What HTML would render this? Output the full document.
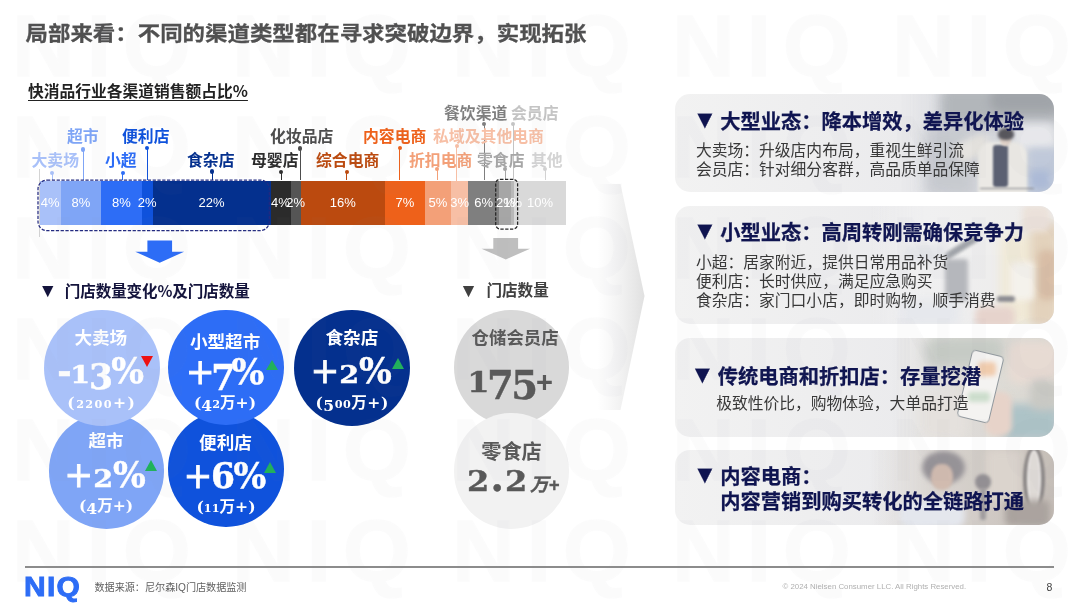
<!DOCTYPE html>
<html lang="zh-CN">
<head>
<meta charset="utf-8">
<title>局部来看：不同的渠道类型都在寻求突破边界，实现拓张</title>
<style>
html,body{margin:0;padding:0;}
body{width:1080px;height:608px;position:relative;overflow:hidden;background:#fff;
  font-family:"Liberation Sans","Noto Sans CJK SC",sans-serif;color:#333;}
.abs{position:absolute;white-space:nowrap;}
/* watermark */
.wm{position:absolute;font-weight:700;font-size:87px;line-height:87px;color:#8c8c9b;-webkit-text-stroke:1.5px #8c8c9b;letter-spacing:12px;white-space:nowrap;font-family:"Liberation Sans",sans-serif;}
#wm{position:absolute;left:0;top:0;width:1080px;height:608px;overflow:hidden;z-index:50;pointer-events:none;opacity:0.026;}
#title{left:25.5px;top:19.4px;font-size:22.45px;line-height:32px;font-weight:700;color:#505050;letter-spacing:0;transform:scaleY(0.915);transform-origin:50% 50%;-webkit-text-stroke:0.3px #505050;}
#sub{left:28px;top:80px;font-size:15.75px;line-height:22px;font-weight:700;color:#222;text-decoration:underline;text-underline-offset:2.5px;text-decoration-thickness:1.4px;font-family:"Noto Sans CJK SC",sans-serif;}
/* bar */
.seg{position:absolute;top:180.5px;height:44.5px;}
.pct{position:absolute;top:180.5px;height:44.5px;line-height:44.5px;font-size:13px;color:#fff;text-align:center;white-space:nowrap;
  font-family:"Liberation Sans",sans-serif;transform:translateX(-50%);}
.lab{position:absolute;font-size:15.85px;line-height:20px;font-weight:700;white-space:nowrap;}
.ld{position:absolute;width:1px;}
.ld:before{content:"";position:absolute;left:-1.6px;top:-2.2px;width:4.2px;height:4.2px;border-radius:50%;background:inherit;}
.hd{font-size:15.55px;line-height:22px;font-weight:700;}
/* circles */
.circ{position:absolute;border-radius:50%;color:#fff;text-align:center;}
.cn{position:absolute;transform:translateX(-50%);font-weight:700;line-height:24px;white-space:nowrap;z-index:5;}
.cv{position:absolute;transform:translateX(-50%);font-family:"DejaVu Serif","Liberation Serif",serif;font-weight:700;font-size:34.5px;line-height:48px;white-space:nowrap;z-index:5;letter-spacing:-0.5px;}
.cv.big{font-size:38.5px;}
.cv .pm{font-weight:400;-webkit-text-stroke:0.8px currentColor;}
.cv{-webkit-text-stroke:0.45px currentColor;}
.cv .x,.cs .x{font-size:72%;}
.cv .x{display:inline-block;transform:scaleX(1.15);margin:0 0.07em;}
.cv .d,.cs .d{display:inline-block;transform:translateY(0.18em);}
.cs{position:absolute;transform:translateX(-50%);font-family:"DejaVu Serif","Noto Sans CJK SC",serif;font-weight:700;font-size:15.6px;line-height:20px;white-space:nowrap;z-index:5;color:#fff;}
.tri{position:absolute;width:0;height:0;z-index:5;}
/* panels */
.panel{position:absolute;left:674.5px;width:379.5px;border-radius:15px;background:linear-gradient(90deg,#f2f2f2 0%,#eeeeef 35%,#ebebed 60%,#ebebed 100%);overflow:hidden;}
.panel h3{position:absolute;margin:0;font-size:20.25px;line-height:26px;font-weight:700;color:#0f1450;white-space:nowrap;z-index:2;-webkit-text-stroke:0.25px #0f1450;}
.panel h3 .tv{position:absolute;left:-4.5px;top:-2.8px;font-size:25px;}
.panel h3{padding-left:23.2px;}
.panel p{position:absolute;margin:0;font-size:15.78px;line-height:18.4px;color:#383838;white-space:nowrap;z-index:2;font-weight:400;}
.ph{position:absolute;left:0;right:0;top:0;bottom:0;z-index:1;opacity:0.92}
.ph i{position:absolute;display:block;}
#logo{left:24.3px;top:571.5px;font-size:27.5px;line-height:30px;font-weight:700;color:#2d6df6;font-family:"Liberation Sans",sans-serif;letter-spacing:1.2px;-webkit-text-stroke:0.9px #2d6df6;transform:scaleX(1.09);transform-origin:0 50%;}
</style>
</head>
<body>
<!-- WATERMARK -->
<div id="wm"><span class="wm" style="left:12px;top:1.5px">NIQ</span><span class="wm" style="left:232px;top:1.5px">NIQ</span><span class="wm" style="left:452px;top:1.5px">NIQ</span><span class="wm" style="left:672px;top:1.5px">NIQ</span><span class="wm" style="left:892px;top:1.5px">NIQ</span><span class="wm" style="left:12px;top:102.5px">NIQ</span><span class="wm" style="left:232px;top:102.5px">NIQ</span><span class="wm" style="left:452px;top:102.5px">NIQ</span><span class="wm" style="left:672px;top:102.5px">NIQ</span><span class="wm" style="left:892px;top:102.5px">NIQ</span><span class="wm" style="left:12px;top:203.5px">NIQ</span><span class="wm" style="left:232px;top:203.5px">NIQ</span><span class="wm" style="left:452px;top:203.5px">NIQ</span><span class="wm" style="left:672px;top:203.5px">NIQ</span><span class="wm" style="left:892px;top:203.5px">NIQ</span><span class="wm" style="left:12px;top:304.5px">NIQ</span><span class="wm" style="left:232px;top:304.5px">NIQ</span><span class="wm" style="left:452px;top:304.5px">NIQ</span><span class="wm" style="left:672px;top:304.5px">NIQ</span><span class="wm" style="left:892px;top:304.5px">NIQ</span><span class="wm" style="left:12px;top:405.5px">NIQ</span><span class="wm" style="left:232px;top:405.5px">NIQ</span><span class="wm" style="left:452px;top:405.5px">NIQ</span><span class="wm" style="left:672px;top:405.5px">NIQ</span><span class="wm" style="left:892px;top:405.5px">NIQ</span><span class="wm" style="left:12px;top:506.5px">NIQ</span><span class="wm" style="left:232px;top:506.5px">NIQ</span><span class="wm" style="left:452px;top:506.5px">NIQ</span><span class="wm" style="left:672px;top:506.5px">NIQ</span><span class="wm" style="left:892px;top:506.5px">NIQ</span></div>

<div class="abs" id="title">局部来看：不同的渠道类型都在寻求突破边界，实现拓张</div>
<div class="abs" id="sub">快消品行业各渠道销售额占比%</div>

<!-- BAR -->
<div id="bar">
<div class="abs" style="left:39px;top:169px;width:1px;height:68px;background:#d4d4d4"></div>
<div class="seg" style="left:39.5px;width:21.25px;background:#a9c1f9"></div>
<div class="seg" style="left:60.75px;width:40.25px;background:#7fa5f6"></div>
<div class="seg" style="left:101px;width:40.75px;background:#2d6df6"></div>
<div class="seg" style="left:141.75px;width:10.75px;background:#0f52dc"></div>
<div class="seg" style="left:152.5px;width:118.00px;background:#04308e"></div>
<div class="seg" style="left:270.5px;width:20.00px;background:#2b2b2b"></div>
<div class="seg" style="left:290.5px;width:10.10px;background:#555555"></div>
<div class="seg" style="left:300.6px;width:84.40px;background:#bb4a0f"></div>
<div class="seg" style="left:385px;width:39.70px;background:#ee611a"></div>
<div class="seg" style="left:424.7px;width:26.40px;background:#f3a078"></div>
<div class="seg" style="left:451.1px;width:16.90px;background:#f7bfa5"></div>
<div class="seg" style="left:468px;width:31.40px;background:#7f7f7f"></div>
<div class="seg" style="left:499.4px;width:11.90px;background:#a6a6a6"></div>
<div class="seg" style="left:511.3px;width:2.90px;background:#b8b8b8"></div>
<div class="seg" style="left:514.2px;width:51.60px;background:#d9d9d9"></div>
<div class="pct" style="left:50.12px">4%</div>
<div class="pct" style="left:80.88px">8%</div>
<div class="pct" style="left:121.38px">8%</div>
<div class="pct" style="left:147.12px">2%</div>
<div class="pct" style="left:211.50px">22%</div>
<div class="pct" style="left:280.50px">4%</div>
<div class="pct" style="left:295.55px">2%</div>
<div class="pct" style="left:342.80px">16%</div>
<div class="pct" style="left:404.85px">7%</div>
<div class="pct" style="left:437.90px">5%</div>
<div class="pct" style="left:459.55px">3%</div>
<div class="pct" style="left:483.70px">6%</div>
<div class="pct" style="left:505.35px">2%</div>
<div class="pct" style="left:512.75px">1%</div>
<div class="pct" style="left:540.00px">10%</div>
<div class="ld" style="left:51.5px;top:172.9px;height:7.6px;background:#a9c1f9"></div>
<div class="ld" style="left:82.6px;top:149.6px;height:30.9px;background:#7fa5f6"></div>
<div class="ld" style="left:122.1px;top:172.9px;height:7.6px;background:#2d6df6"></div>
<div class="ld" style="left:146.9px;top:147.8px;height:32.7px;background:#0f52dc"></div>
<div class="ld" style="left:211.8px;top:171.6px;height:8.9px;background:#04308e"></div>
<div class="ld" style="left:280.7px;top:171.9px;height:8.6px;background:#2b2b2b"></div>
<div class="ld" style="left:299.5px;top:148.6px;height:31.9px;background:#4d4d4d"></div>
<div class="ld" style="left:346.3px;top:171.9px;height:8.6px;background:#bb4a0f"></div>
<div class="ld" style="left:399.4px;top:148.3px;height:32.2px;background:#ee611a"></div>
<div class="ld" style="left:436.6px;top:169.3px;height:11.2px;background:#f3a078"></div>
<div class="ld" style="left:456.3px;top:146px;height:34.5px;background:#f7bfa5"></div>
<div class="ld" style="left:483.6px;top:123.9px;height:56.6px;background:#7f7f7f"></div>
<div class="ld" style="left:504.7px;top:168.8px;height:11.7px;background:#a6a6a6"></div>
<div class="ld" style="left:512.7px;top:123.9px;height:56.6px;background:#c4c4c4"></div>
<div class="ld" style="left:544.5px;top:169.3px;height:11.2px;background:#d4d4d4"></div>
<div class="lab" style="left:31.5px;top:150.6px;color:#a9c1f9">大卖场</div>
<div class="lab" style="left:67px;top:126.6px;color:#7fa5f6">超市</div>
<div class="lab" style="left:105px;top:150.6px;color:#2d6df6">小超</div>
<div class="lab" style="left:122px;top:126.6px;color:#0f52dc">便利店</div>
<div class="lab" style="left:187px;top:150.6px;color:#04308e">食杂店</div>
<div class="lab" style="left:251px;top:150.6px;color:#2b2b2b">母婴店</div>
<div class="lab" style="left:270px;top:126.6px;color:#4d4d4d">化妆品店</div>
<div class="lab" style="left:316px;top:150.6px;color:#bb4a0f">综合电商</div>
<div class="lab" style="left:363px;top:126.6px;color:#ee611a">内容电商</div>
<div class="lab" style="left:409px;top:150.6px;color:#f3a078">折扣电商</div>
<div class="lab" style="left:433px;top:126.6px;color:#f7bfa5">私域及其他电商</div>
<div class="lab" style="left:444px;top:104.3px;color:#7f7f7f">餐饮渠道</div>
<div class="lab" style="left:477px;top:150.6px;color:#a6a6a6">零食店</div>
<div class="lab" style="left:511px;top:104.3px;color:#c4c4c4">会员店</div>
<div class="lab" style="left:531px;top:150.6px;color:#d4d4d4">其他</div>
<svg class="abs" style="left:0;top:0;z-index:3" width="1080" height="608" viewBox="0 0 1080 608"><rect x="38" y="180" width="231.3" height="50.6" rx="9" fill="none" stroke="#232a80" stroke-width="1.25" stroke-dasharray="3.3 1.5"/><rect x="495.7" y="179.3" width="21.9" height="49.7" rx="4.5" fill="none" stroke="#262626" stroke-width="1.25" stroke-dasharray="3.3 1.5"/></svg>
</div>

<!-- ARROWS -->
<div id="arrows">
<svg class="abs" style="left:0;top:0" width="1080" height="608" viewBox="0 0 1080 608">
<defs>
<linearGradient id="cg" x1="0" x2="1" y1="0" y2="0"><stop offset="0.35" stop-color="#e8e8e8" stop-opacity="0"/><stop offset="1" stop-color="#e0e0e0" stop-opacity="1"/></linearGradient>
</defs>
<polygon points="572,184 620.5,184 644.5,296 620.5,410 572,410" fill="url(#cg)"/>
<polygon points="147.4,240.6 172.1,240.6 172.1,251.7 184.1,251.7 159.7,262.8 135.3,251.7 147.4,251.7" fill="#2d6df6"/>
<polygon points="493.3,238 518.1,238 518.1,248.7 530.1,248.7 505.8,259.4 481.5,248.7 493.3,248.7" fill="#bfbfbf"/>
</svg>
<div class="abs hd" style="left:38.3px;top:280px;color:#14143c;font-size:19.2px">▼</div>
<div class="abs hd" style="left:64.8px;top:278.9px;color:#14143c;font-family:'Noto Sans CJK SC',sans-serif;letter-spacing:-0.1px">门店数量变化%及门店数量</div>
<div class="abs hd" style="left:459px;top:280px;color:#404040;font-size:19.2px">▼</div>
<div class="abs hd" style="left:486.5px;top:279.6px;color:#404040">门店数量</div>
</div>

<!-- CIRCLES -->
<div id="circles">
<div class="circ" style="left:48.8px;top:413.1px;width:115.5px;height:115.5px;background:#7fa5f6;z-index:1"></div>
<div class="circ" style="left:168.2px;top:411.2px;width:115.5px;height:115.5px;background:#0f52dc;z-index:1"></div>
<div class="circ" style="left:43.9px;top:309.6px;width:116px;height:116px;background:#a9c1f9;z-index:2"></div>
<div class="circ" style="left:168.1px;top:309.6px;width:115.5px;height:115.5px;background:#2d6df6;z-index:2"></div>
<div class="circ" style="left:293.9px;top:310.2px;width:116px;height:116px;background:#04308e;z-index:2"></div>
<div class="circ" style="left:453.9px;top:309.6px;width:115.5px;height:115.5px;background:#d9d9d9;z-index:1"></div>
<div class="circ" style="left:453.9px;top:413.1px;width:115.5px;height:115.5px;background:#f2f2f2;z-index:2"></div>
<div class="cn" style="left:100.8px;top:326px;font-size:17.6px;color:#fff">大卖场</div>
<div class="cv" style="left:99.8px;top:347.3px;color:#fff;letter-spacing:-1.7px">-<span class="x">1</span><span class="d">3</span>%</div>
<div class="cs" style="left:101.8px;top:392.5px;letter-spacing:1.4px">(<span class="x">2</span><span class="x">2</span><span class="x">0</span><span class="x">0</span>+)</div>
<div class="tri" style="left:141px;top:355.5px;border-left:6.650000000000006px solid transparent;border-right:6.650000000000006px solid transparent;border-top:11.199999999999989px solid #ee1111"></div>
<div class="cn" style="left:225.1px;top:330px;font-size:17.6px;color:#fff">小型超市</div>
<div class="cv" style="left:223.3px;top:347.8px;color:#fff;letter-spacing:-3.6px"><span class="pm">+</span><span class="d">7</span>%</div>
<div class="cs" style="left:225px;top:393px">(<span class="d">4</span><span class="x">2</span>万+)</div>
<div class="tri" style="left:265.5px;top:359.8px;border-left:6.650000000000006px solid transparent;border-right:6.650000000000006px solid transparent;border-bottom:10.699999999999989px solid #1fb25a"></div>
<div class="cn" style="left:351.9px;top:326px;font-size:17.6px;color:#fff">食杂店</div>
<div class="cv" style="left:350.9px;top:347.3px;color:#fff"><span class="pm">+</span><span class="x">2</span>%</div>
<div class="cs" style="left:352.1px;top:392.5px;letter-spacing:0.5px">(<span class="d">5</span><span class="x">0</span><span class="x">0</span>万+)</div>
<div class="tri" style="left:392.2px;top:358.3px;border-left:6.700000000000017px solid transparent;border-right:6.700000000000017px solid transparent;border-bottom:11.099999999999966px solid #1fb25a"></div>
<div class="cn" style="left:106px;top:429px;font-size:17.6px;color:#fff">超市</div>
<div class="cv" style="left:104.8px;top:450.9px;color:#fff"><span class="pm">+</span><span class="x">2</span>%</div>
<div class="cs" style="left:106.1px;top:495.5px">(<span class="d">4</span>万+)</div>
<div class="tri" style="left:145.4px;top:460.2px;border-left:6.599999999999994px solid transparent;border-right:6.599999999999994px solid transparent;border-bottom:11.800000000000011px solid #1fb25a"></div>
<div class="cn" style="left:225.5px;top:431px;font-size:17.6px;color:#fff">便利店</div>
<div class="cv" style="left:224.2px;top:452.0px;color:#fff;letter-spacing:-1.5px"><span class="pm">+</span>6%</div>
<div class="cs" style="left:226px;top:497px">(<span class="x">1</span><span class="x">1</span>万+)</div>
<div class="tri" style="left:264.3px;top:462.4px;border-left:6.599999999999994px solid transparent;border-right:6.599999999999994px solid transparent;border-bottom:11.100000000000023px solid #1fb25a"></div>
<div class="cn" style="left:515.1px;top:326px;font-size:17.4px;color:#595959">仓储会员店</div>
<div class="cn" style="left:511.5px;top:439.5px;font-size:20.2px;color:#595959">零食店</div>
<div class="cv big" style="left:501px;top:354.9px;color:#595959;letter-spacing:-2.6px"><span class="x">1</span><span class="d">7</span><span class="d">5</span></div>
<div class="abs" style="left:536px;top:369px;font-size:29px;line-height:26px;font-weight:700;color:#595959;font-family:'Liberation Sans',sans-serif;z-index:5">+</div>
<div class="cv big" style="left:497.5px;top:454.3px;color:#595959;letter-spacing:0.5px"><span class="x">2</span>.<span class="x">2</span></div>
<div class="abs" style="left:530px;top:474px;font-size:18.5px;line-height:22px;font-weight:700;font-style:italic;color:#595959;z-index:5;-webkit-text-stroke:0.3px #595959">万+</div>
</div>

<!-- CHEVRON -->

<!-- PANELS -->
<div id="panels">
<div class="panel" style="top:93.5px;height:98.5px">
  <div class="ph" id="ph1"><i style="left:225.5px;top:0;width:154px;height:98.5px;background:linear-gradient(90deg,rgba(214,216,221,0),#d6d8dd 35%,#cfd2d7);border-radius:0"></i><i style="left:265.5px;top:-7.5px;width:122.0px;height:40.0px;background:#adb1b6;border-radius:10px;filter:blur(6px);"></i><i style="left:315.5px;top:-5.5px;width:72.0px;height:24.0px;background:#9a9ea3;border-radius:10px;filter:blur(5px);"></i><i style="left:250.5px;top:31.5px;width:50.0px;height:71.0px;background:#c4c7cd;border-radius:6px;filter:blur(6px);"></i><i style="left:337.5px;top:28.5px;width:44.0px;height:28.0px;background:#e6e7eb;border-radius:8px;filter:blur(4px);"></i><i style="left:353.5px;top:54.5px;width:30.0px;height:46.0px;background:#bcc6d8;border-radius:4px;filter:blur(3.5px);"></i><i style="left:355.5px;top:76.5px;width:20.0px;height:20.0px;background:#a9b8d6;border-radius:4px;filter:blur(3.5px);"></i><i style="left:280.5px;top:44.5px;width:35.0px;height:20.0px;background:#e4e2de;border-radius:8px;filter:blur(3px);transform:rotate(-25deg);"></i><i style="left:303.5px;top:48.5px;width:49.0px;height:54.0px;background:#ebe9e4;border-radius:14px 14px 0 0;filter:blur(1.8px);"></i><i style="left:318.0px;top:51.5px;width:15.5px;height:42.0px;background:#4f5468;border-radius:3px;filter:blur(1.2px);"></i><i style="left:325.0px;top:40.5px;width:11.5px;height:12.0px;background:#dccdc3;border-radius:50%;filter:blur(1.2px);"></i><i style="left:323.5px;top:34.5px;width:16.0px;height:12.0px;background:#4a4950;border-radius:50% 50% 40% 40%;filter:blur(1.5px);"></i><i style="left:305.5px;top:94.0px;width:54.0px;height:1.5px;background:#77777d;border-radius:1px;filter:blur(0.8px);"></i></div>
  <h3 style="left:22.5px;top:15.5px"><span class="tv">▼</span>大型业态：降本增效，差异化体验</h3>
  <p style="left:21.5px;top:48.6px">大卖场：升级店内布局，重视生鲜引流<br>会员店：针对细分客群，高品质单品保障</p>
</div>
<div class="panel" style="top:205.5px;height:118.5px">
  <div class="ph" id="ph2"><i style="left:195.5px;top:0;width:184px;height:118.5px;background:linear-gradient(90deg,rgba(240,240,241,0),#f0f0f1 30%,#eeedeb);border-radius:0"></i><i style="left:325.5px;top:29.5px;width:35.0px;height:91.0px;background:#f1ead6;border-radius:6px;filter:blur(5px);"></i><i style="left:355.5px;top:16.5px;width:28.0px;height:104.0px;background:#e2d0b8;border-radius:6px;filter:blur(4px);"></i><i style="left:363.5px;top:44.5px;width:18.0px;height:50.0px;background:#d6b9a0;border-radius:6px;filter:blur(3px);"></i><i style="left:347.5px;top:-0.5px;width:28.0px;height:27.0px;background:#ebe0d8;border-radius:6px;filter:blur(3px);"></i><i style="left:335.5px;top:56.5px;width:24.0px;height:38.0px;background:#f5f2ec;border-radius:4px;filter:blur(3px);"></i><i style="left:270.5px;top:53.5px;width:23.0px;height:42.0px;background:#b1b3b8;border-radius:3px;filter:blur(2.2px);"></i><i style="left:267.5px;top:38.5px;width:38.0px;height:7.0px;background:#9b9ea4;border-radius:3px;filter:blur(1.6px);transform:rotate(-32deg);"></i><i style="left:230.5px;top:39.5px;width:40.0px;height:17.0px;background:#e3e5e9;border-radius:6px;filter:blur(3px);"></i><i style="left:322.5px;top:90.5px;width:18.0px;height:6.0px;background:#84848a;border-radius:3px;filter:blur(1.8px);"></i><i style="left:300.5px;top:100.5px;width:40.0px;height:22.0px;background:#e6d2ca;border-radius:8px;filter:blur(3px);"></i><i style="left:225.5px;top:94.5px;width:60.0px;height:26.0px;background:#e6e8ed;border-radius:8px;filter:blur(4px);"></i></div>
  <h3 style="left:22.5px;top:14px"><span class="tv">▼</span>小型业态：高周转刚需确保竞争力</h3>
  <p style="left:21.5px;top:47.2px;line-height:19px">小超：居家附近，提供日常用品补货<br>便利店：长时供应，满足应急购买<br>食杂店：家门口小店，即时购物，顺手消费</p>
</div>
<div class="panel" style="top:337.5px;height:99px">
  <div class="ph" id="ph3"><i style="left:217.5px;top:0;width:162px;height:99px;background:linear-gradient(90deg,rgba(225,222,217,0),#e0ddd8 42%,#d8d5cf);border-radius:0"></i><i style="left:250.5px;top:-1.5px;width:80.0px;height:32.0px;background:#c3c8c2;border-radius:10px;filter:blur(6px);"></i><i style="left:333.5px;top:4.5px;width:50.0px;height:42.0px;background:#e7d9d1;border-radius:10px;filter:blur(5px);"></i><i style="left:325.5px;top:66.5px;width:58.0px;height:36.0px;background:#a8bfc4;border-radius:8px;filter:blur(4px);"></i><i style="left:355.5px;top:42.5px;width:28.0px;height:30.0px;background:#c5c5c0;border-radius:8px;filter:blur(4px);"></i><i style="left:245.5px;top:57.5px;width:45.0px;height:45.0px;background:#e4e0dc;border-radius:10px;filter:blur(5px);"></i><i style="left:310.5px;top:54.5px;width:27.0px;height:44.0px;background:#e6d1c6;border-radius:10px;filter:blur(2.5px);"></i><i style="left:289.5px;top:14.0px;width:31px;height:67px;background:#f5f3f1;border:1.6px solid #889096;border-radius:4px;transform:rotate(13.5deg);filter:blur(0.7px)"></i><i style="left:303.5px;top:24.5px;width:18.0px;height:14.0px;background:#f0c9a8;border-radius:4px;filter:blur(2px);"></i><i style="left:293.5px;top:54.5px;width:22.0px;height:10.0px;background:#c9dcc9;border-radius:4px;filter:blur(2px);"></i></div>
  <h3 style="left:20px;top:26.3px"><span class="tv">▼</span>传统电商和折扣店：存量挖潜</h3>
  <p style="left:41.7px;top:57.2px">极致性价比，购物体验，大单品打造</p>
</div>
<div class="panel" style="top:449.5px;height:75px">
  <div class="ph" id="ph4"><i style="left:195.5px;top:0;width:184px;height:75px;background:linear-gradient(90deg,rgba(216,210,205,0),#d8d3ce 35%,#c2bab3);border-radius:0"></i><i style="left:310.5px;top:-0.5px;width:37.0px;height:51.0px;background:#d9d2ca;border-radius:6px;filter:blur(4px);"></i><i style="left:225.5px;top:50.5px;width:65.0px;height:28.0px;background:#e4e7ee;border-radius:10px;filter:blur(3px);"></i><i style="left:247.5px;top:1.5px;width:43.0px;height:33.0px;background:#8f8b90;border-radius:50%;filter:blur(2.5px);"></i><i style="left:256.5px;top:14.5px;width:22.0px;height:26.0px;background:#cfb7aa;border-radius:45%;filter:blur(1.5px);"></i><i style="left:300.5px;top:24.5px;width:16.0px;height:16.0px;background:#8b878b;border-radius:50%;filter:blur(1.5px);"></i><i style="left:305.5px;top:38.5px;width:6.0px;height:32.0px;background:#9a9698;border-radius:2px;filter:blur(1.5px);"></i><i style="left:348.5px;top:-3.5px;width:14px;height:58px;border:4px solid #85807f;border-radius:50%;background:#ddd8d4;filter:blur(0.8px);box-shadow:inset 0 0 0 1.5px #f4f2f0"></i><i style="left:330.5px;top:50.5px;width:45.0px;height:26.0px;background:#a59d98;border-radius:6px;filter:blur(3px);"></i></div>
  <h3 style="left:22.5px;top:15.6px;line-height:24.7px"><span class="tv">▼</span>内容电商：<br>内容营销到购买转化的全链路打通</h3>
</div>
</div>

<!-- FOOTER -->
<div id="footer">
<div class="abs" style="left:25px;top:566px;width:1029px;height:1.5px;background:#8c8c8c"></div>
<div class="abs" id="logo">NIQ</div>
<div class="abs" style="left:94.5px;top:580.5px;font-size:10.1px;line-height:14px;color:#606060">数据来源：尼尔森IQ门店数据监测</div>
<div class="abs" style="left:782.5px;top:582px;font-size:7.85px;line-height:10px;color:#b0b0b0;font-family:'Liberation Sans',sans-serif">© 2024 Nielsen Consumer LLC. All Rights Reserved.</div>
<div class="abs" style="left:1046.5px;top:580.3px;font-size:10.5px;line-height:14px;color:#404040;font-family:'Liberation Sans',sans-serif">8</div>
</div>
</body>
</html>
